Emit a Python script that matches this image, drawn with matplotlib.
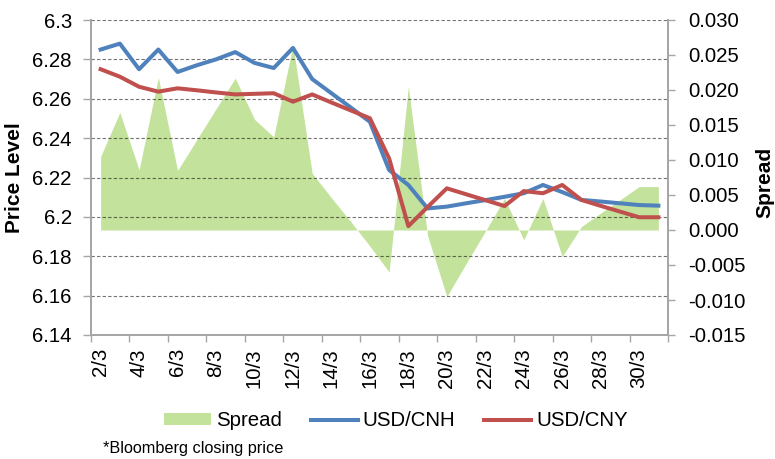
import numpy as np
import matplotlib
matplotlib.use("Agg")
import matplotlib.pyplot as plt
from matplotlib.ticker import FixedLocator, FuncFormatter

plt.rcParams['font.family'] = ['Liberation Sans', 'DejaVu Sans']

# daily closing prices, 2/3 to 31/3
dates = [f"{d}/3" for d in range(2, 32)]
usd_cnh = [6.2850, 6.2880, 6.2750, 6.2850, 6.2736, 6.2770, 6.2800, 6.2837, 6.2782, 6.2756,
           6.2858, 6.2700, 6.2628, 6.2556, 6.2483, 6.2238, 6.2162, 6.2043, 6.2052, 6.2069,
           6.2085, 6.2102, 6.2120, 6.2162, 6.2126, 6.2086, 6.2078, 6.2069, 6.2060, 6.2057]
usd_cny = [6.2750, 6.2712, 6.2661, 6.2636, 6.2653, 6.2643, 6.2632, 6.2622, 6.2625, 6.2628,
           6.2585, 6.2622, 6.2581, 6.2541, 6.2501, 6.2297, 6.1953, 6.2050, 6.2145, 6.2115,
           6.2085, 6.2055, 6.2131, 6.2120, 6.2162, 6.2086, 6.2056, 6.2027, 6.1998, 6.1998]
spread = [0.0105, 0.0168, 0.0086, 0.0218, 0.0085, 0.0129, 0.0173, 0.0217, 0.0158, 0.0133,
          0.0264, 0.0081, 0.0046, 0.0012, -0.0023, -0.0060, 0.0205, -0.0008, -0.0095, -0.0048,
          -0.0002, 0.0045, -0.0014, 0.0045, -0.0038, 0.0005, 0.0024, 0.0043, 0.0062, 0.0062]

price_ticks = [6.14, 6.16, 6.18, 6.20, 6.22, 6.24, 6.26, 6.28, 6.30]
spread_ticks = [-0.015, -0.010, -0.005, 0.000, 0.005, 0.010, 0.015, 0.020, 0.025, 0.030]

fs = 14.7
axis_col = '#A6A6A6'

fig = plt.figure(figsize=(7.75, 4.59), dpi=100)
ax = fig.add_axes([91/775, 1 - 335/459, (668 - 91)/775, (335 - 20)/459])
ax2 = ax.twinx()
ax.set_zorder(ax2.get_zorder() + 1)
ax.patch.set_visible(False)

x = np.arange(len(dates))

ax2.fill_between(x, 0, spread, color='#C3E29B', linewidth=0, label='Spread')
ax.plot(x, usd_cnh, color='#4F81BD', lw=2.9, solid_joinstyle='round', label='USD/CNH')
ax.plot(x, usd_cny, color='#C0504D', lw=2.9, solid_joinstyle='round', label='USD/CNY')

ax.set_xlim(-0.5, len(dates) - 0.5)
ax.set_ylim(6.14, 6.30)
ax2.set_ylim(-0.015, 0.030)

ax.set_yticks(price_ticks)
ax.yaxis.set_major_formatter(FuncFormatter(lambda v, p: f"{v:.2f}".rstrip('0')))
ax2.set_yticks(spread_ticks)
ax2.yaxis.set_major_formatter(FuncFormatter(lambda v, p: f"{v:.3f}"))

ax.set_xticks(x[::2])
ax.set_xticklabels(dates[::2], rotation=90, fontsize=fs)
ax.xaxis.set_minor_locator(FixedLocator(np.arange(-0.5, len(dates), 2)))
ax.tick_params(axis='x', which='major', length=0, pad=9.5)
ax.tick_params(axis='x', which='minor', length=5, width=1, color=axis_col)
ax.tick_params(axis='y', length=5.8, width=1, color=axis_col, labelsize=fs, pad=8)
ax2.tick_params(axis='y', length=5.2, width=1, color=axis_col, labelsize=fs, pad=9.5)
ax2.tick_params(axis='x', which='both', length=0)

# gridlines at price ticks (above the area, faded)
for v in price_ticks[1:]:
    ax.axhline(v, color='black', alpha=0.55, lw=0.8, ls=(0, (3, 2)), zorder=0.5)

for a in (ax, ax2):
    a.spines['top'].set_visible(False)
    for s in ('left', 'right', 'bottom'):
        a.spines[s].set_color(axis_col)
        a.spines[s].set_linewidth(1.3)

fig.text(15/775, 1 - 177.5/459, 'Price Level', rotation=90, ha='center', va='center',
         fontsize=15, fontweight='bold')
fig.text(765/775, 1 - 182/459, 'Spread', rotation=90, ha='center', va='center',
         fontsize=15, fontweight='bold')

h1, l1 = ax2.get_legend_handles_labels()
h2, l2 = ax.get_legend_handles_labels()
fig.legend(h1 + h2, l1 + l2, loc='center', bbox_to_anchor=(396/775, 1 - 421/459), ncol=3,
           frameon=False, fontsize=fs, handlelength=2.3, handleheight=0.55,
           handletextpad=0.25, columnspacing=1.4)

fig.text(103/775, 1 - 448/459, '*Bloomberg closing price', ha='left', va='center', fontsize=11.7)

fig.savefig('out.png', dpi=100)
